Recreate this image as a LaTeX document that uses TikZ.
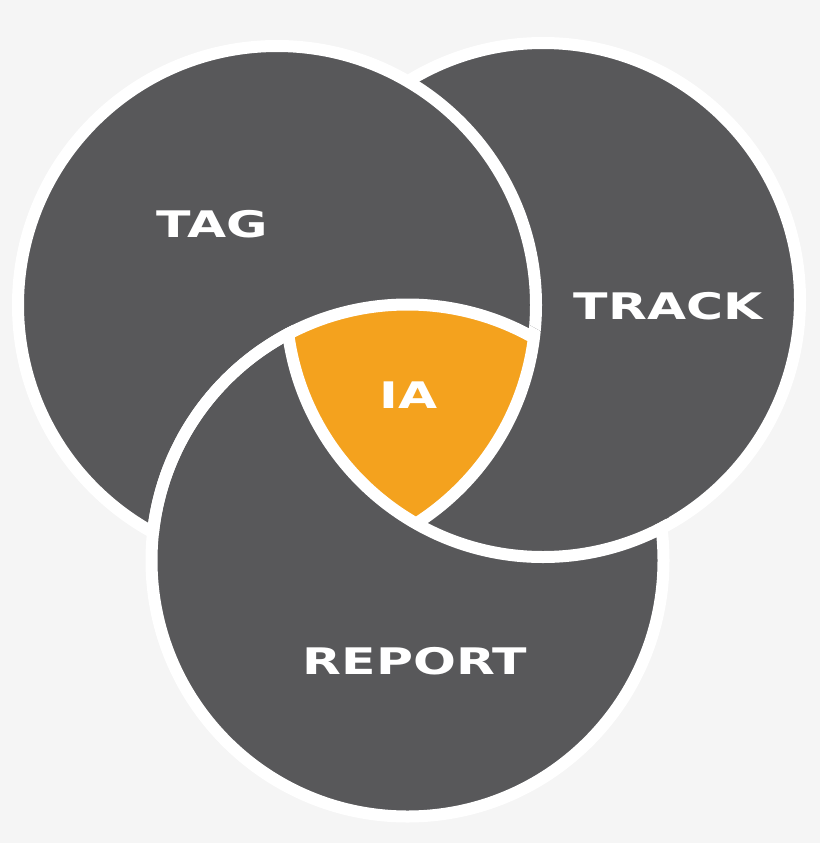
\documentclass[tikz,border=0pt]{standalone}
\usepackage{fontspec}
\newfontfamily\vennfont[FakeStretch=1.38]{DejaVu Sans}
\definecolor{venngray}{HTML}{58585A}
\definecolor{vennorange}{HTML}{F4A21E}
\definecolor{vennbg}{HTML}{F5F5F5}
\tikzset{
	disc/.style={fill=venngray},
	rim/.style={draw=white, line width=12pt},
	vennlabel/.style={text=white, inner sep=0pt, font=\vennfont\bfseries\fontsize{36.6}{40}\selectfont}
}
\begin{document}
\begin{tikzpicture}[x=1pt, y=-1pt]
		\fill[vennbg] (0,0) rectangle (820,843);

		\coordinate (tag) at (277,305);
		\coordinate (track) at (543,300);
		\coordinate (report) at (407.5,560.5);

		% circles, back to front
		\filldraw[disc, rim] (track) circle[radius=257pt];
		\filldraw[disc, rim] (tag) circle[radius=259pt];
		\filldraw[disc, rim] (report) circle[radius=256pt];

		% track lies over report
		\begin{scope}
			\clip (report) circle[radius=265pt];
			\fill[disc] (track) circle[radius=251pt];
		\end{scope}

		% common part
		\begin{scope}
			\clip (tag) circle[radius=259pt];
			\clip (track) circle[radius=257pt];
			\fill[vennorange] (report) circle[radius=256pt];
		\end{scope}

		% rims round the common part
		\begin{scope}
			\clip (report) circle[radius=262pt];
			\draw[rim] (track) circle[radius=257pt];
		\end{scope}
		\begin{scope}
			\clip (tag) circle[radius=259pt];
			\draw[rim] (report) circle[radius=256pt];
		\end{scope}
		\begin{scope}
			\clip (report) circle[radius=265pt];
			\clip (track) circle[radius=257pt];
			\draw[rim] (tag) circle[radius=259pt];
		\end{scope}

		\node[vennlabel] (tagtext) at (212.3,224.5) {TAG};
		\node[vennlabel] (tracktext) at (668,306) {TRACK};
		\node[vennlabel] (reporttext) at (415,661) {REPORT};
		\node[vennlabel] (iatext) at (408.3,395) {IA};
	\end{tikzpicture}
\end{document}
